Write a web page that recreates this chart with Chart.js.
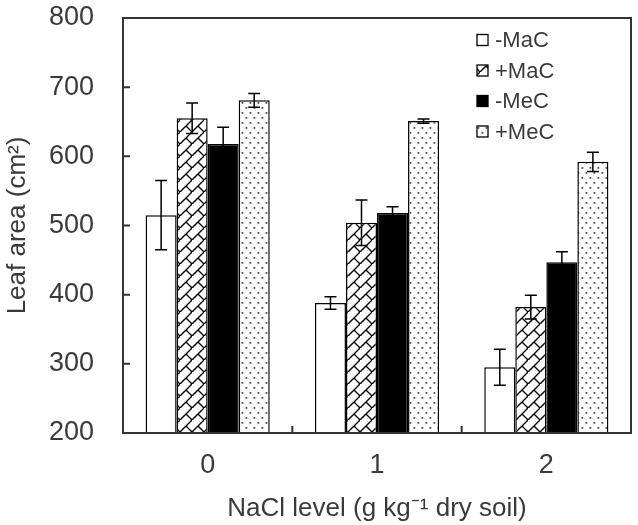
<!DOCTYPE html>
<html>
<head>
<meta charset="utf-8">
<script src="https://cdn.jsdelivr.net/npm/chart.js@4.4.1/dist/chart.umd.min.js"></script>
<style>
  html, body { margin: 0; padding: 0; background: #fff; }
</style>
</head>
<body>
<canvas id="chart" width="638" height="525"></canvas>
<script>
// leaf area vs NaCl level, four treatments (mean +/- error)
var categories = ['0', '1', '2'];
var seriesNames = ['-MaC', '+MaC', '-MeC', '+MeC'];

var minusMaC = [515, 388, 295];
var plusMaC = [655, 504, 382];
var minusMeC = [618, 518, 447];
var plusMeC = [681, 651, 592];

var minusMaCErr = [50, 9, 26];
var plusMaCErr = [22, 33, 17];
var minusMeCErr = [24, 9, 15];
var plusMeCErr = [10, 3, 14];

var yTicks = [200, 300, 400, 500, 600, 700, 800];

var textColor = '#3a3a3a';
var axisColor = '#333333';
var family = '"Liberation Sans", Arial, sans-serif';

// diagonal brick hatch, like the excel fill
function brickPattern() {
  var c = document.createElement('canvas');
  c.width = 12; c.height = 12;
  var g = c.getContext('2d');
  g.fillStyle = '#fff';
  g.fillRect(0, 0, 12, 12);
  g.strokeStyle = '#000';
  g.lineWidth = 1.4;
  g.beginPath();
  g.moveTo(-2, 14); g.lineTo(14, -2);
  g.moveTo(6, 6); g.lineTo(12, 12);
  g.stroke();
  return g.createPattern(c, 'repeat');
}

// sparse grey dots
function dotPattern() {
  var c = document.createElement('canvas');
  c.width = 8; c.height = 10;
  var g = c.getContext('2d');
  g.fillStyle = '#fff';
  g.fillRect(0, 0, 8, 10);
  g.fillStyle = '#555';
  g.fillRect(1.5, 2, 1.8, 1.8);
  g.fillRect(5.5, 7, 1.8, 1.8);
  return g.createPattern(c, 'repeat');
}

var values = [minusMaC, plusMaC, minusMeC, plusMeC];
var errors = [minusMaCErr, plusMaCErr, minusMeCErr, plusMeCErr];
var fills = ['#ffffff', brickPattern(), '#000000', dotPattern()];

var datasets = seriesNames.map(function (name, i) {
  return {
    label: name,
    data: values[i],
    errors: errors[i],
    backgroundColor: fills[i],
    borderColor: '#000',
    borderWidth: 1.5,
    categoryPercentage: 0.733,
    barPercentage: 1.0
  };
});

var errorBars = {
  id: 'errorBars',
  afterDatasetsDraw: function (chart) {
    var ctx = chart.ctx;
    var y = chart.scales.y;
    ctx.save();
    ctx.strokeStyle = '#000';
    ctx.lineWidth = 1.5;
    chart.data.datasets.forEach(function (ds, i) {
      var meta = chart.getDatasetMeta(i);
      meta.data.forEach(function (bar, j) {
        var top = y.getPixelForValue(ds.data[j] + ds.errors[j]);
        var bot = y.getPixelForValue(ds.data[j] - ds.errors[j]);
        ctx.beginPath();
        ctx.moveTo(bar.x, top); ctx.lineTo(bar.x, bot);
        ctx.moveTo(bar.x - 6, top); ctx.lineTo(bar.x + 6, top);
        ctx.moveTo(bar.x - 6, bot); ctx.lineTo(bar.x + 6, bot);
        ctx.stroke();
      });
    });
    ctx.restore();
  }
};

// box round the plot plus inward tick marks
var frame = {
  id: 'frame',
  afterDraw: function (chart) {
    var ctx = chart.ctx;
    var a = chart.chartArea;
    var x = chart.scales.x, y = chart.scales.y;
    ctx.save();
    ctx.strokeStyle = axisColor;
    ctx.lineWidth = 2;
    ctx.strokeRect(a.left, a.top, a.right - a.left, a.bottom - a.top);
    ctx.beginPath();
    yTicks.forEach(function (v) {
      var py = y.getPixelForValue(v);
      ctx.moveTo(a.left, py); ctx.lineTo(a.left + 7, py);
    });
    var half = (x.getPixelForValue(1) - x.getPixelForValue(0)) / 2;
    for (var i = 0; i < categories.length - 1; i++) {
      var px = x.getPixelForValue(i) + half;
      ctx.moveTo(px, a.bottom); ctx.lineTo(px, a.bottom - 7);
    }
    ctx.stroke();
    ctx.restore();
  }
};

var legendBox = {
  id: 'legendBox',
  afterDraw: function (chart) {
    var ctx = chart.ctx;
    var a = chart.chartArea;
    ctx.save();
    ctx.font = '22px ' + family;
    ctx.textBaseline = 'middle';
    chart.data.datasets.forEach(function (ds, i) {
      var lx = a.right - 154;
      var ly = a.top + 22 + i * 30.5;
      ctx.fillStyle = ds.backgroundColor;
      ctx.fillRect(lx, ly - 5.5, 11, 11);
      ctx.strokeStyle = '#000';
      ctx.lineWidth = 1.3;
      ctx.strokeRect(lx, ly - 5.5, 11, 11);
      ctx.fillStyle = textColor;
      ctx.fillText(ds.label, lx + 18, ly + 1);
    });
    ctx.restore();
  }
};

new Chart(document.getElementById('chart'), {
  type: 'bar',
  data: { labels: categories, datasets: datasets },
  plugins: [errorBars, frame, legendBox],
  options: {
    responsive: false,
    animation: false,
    layout: { padding: { top: 18, right: 7, left: 0, bottom: 0 } },
    plugins: {
      legend: { display: false },
      tooltip: { enabled: false }
    },
    scales: {
      x: {
        grid: { display: false, drawTicks: false },
        border: { display: false },
        ticks: { color: textColor, font: { family: family, size: 27 }, padding: 16 },
        title: {
          display: true,
          text: 'NaCl level (g kg\u207B\u00B9 dry soil)',
          color: textColor,
          font: { family: family, size: 26 },
          padding: { top: 0, bottom: 1 }
        },
        afterFit: function (s) {
          s.height = 92;
          s.paddingLeft = 0;
          s.paddingRight = 0;
        }
      },
      y: {
        min: 200,
        max: 800,
        grid: { display: false, drawTicks: false },
        border: { display: false },
        afterBuildTicks: function (s) {
          s.ticks = yTicks.map(function (v) { return { value: v }; });
        },
        ticks: { color: textColor, font: { family: family, size: 27 }, padding: 29 },
        title: {
          display: true,
          text: 'Leaf area (cm\u00B2)',
          color: textColor,
          font: { family: family, size: 26 },
          padding: { top: 2, bottom: 0 }
        },
        afterFit: function (s) {
          s.width = 123;
          s.paddingTop = 0;
          s.paddingBottom = 0;
        }
      }
    }
  }
});
</script>
</body>
</html>
